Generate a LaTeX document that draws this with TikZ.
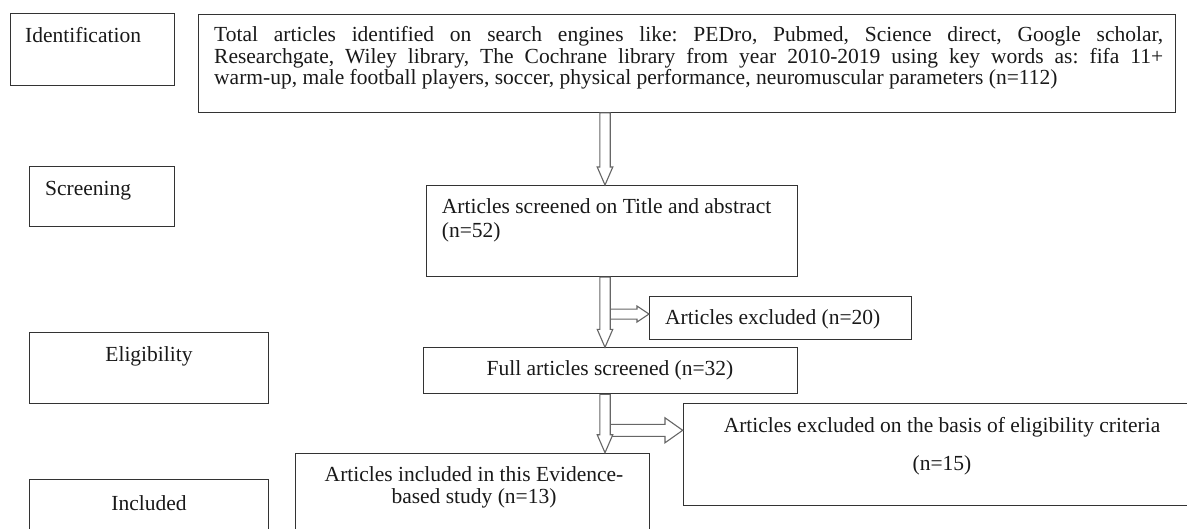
\documentclass[tikz,border=0pt]{standalone}
\usepackage{fontspec}
\setmainfont{Liberation Serif}
\usetikzlibrary{calc}
\frenchspacing

\tikzset{
	box/.style={draw=black!80, line width=1.1pt, anchor=north west, inner sep=0pt},
	txt/.style={inner sep=0pt, text=black!90, font=\fontsize{21.5}{24}\selectfont},
	blockarrow/.style={draw=black!60, fill=white, line width=1.1pt, line join=miter},
}

\begin{document}
\begin{tikzpicture}[x=1pt,y=-1pt]
			\useasboundingbox (0,0) rectangle (1187,528);
			\clip (0,0) rectangle (1187,528);
			\coordinate (spine) at (605,0);
			% stages on the left
			\node[box, minimum width=164.4pt, minimum height=71.7pt] (identstage) at (9.6,13.3) {};
			\node[box, minimum width=145.3pt, minimum height=60.3pt] (screenstage) at (28.7,165.7) {};
			\node[box, minimum width=239pt, minimum height=71.6pt] (eligstage) at (29.3,331.7) {};
			\node[box, minimum width=239pt, minimum height=80pt] (inclstage) at (29.3,479.3) {};
			\node[txt, anchor=base west] (identtxt) at (25,42.7) {Identification};
			\node[txt, anchor=base west] (screentxt) at (45,195) {Screening};
			\node[txt, anchor=base] (eligtxt) at (149,361.7) {Eligibility};
			\node[txt, anchor=base] (incltxt) at (149,510) {Included};
			% flow
			\node[box, minimum width=977.5pt, minimum height=98.2pt] (found) at (197.5,13.5) {};
			\node[txt, anchor=north west, text width=949pt, align=justify, font=\fontsize{21.5}{21.7}\selectfont] (foundtxt) at (214,26) {\tolerance=9999\hbadness=10000\relax Total articles identified on search engines like: PEDro, Pubmed, Science direct, Google scholar,\linebreak Researchgate, Wiley library, The Cochrane library from year 2010-2019 using key words as: fifa 11+\linebreak warm-up, male football players, soccer, physical performance, neuromuscular parameters (n=112)};
			\node[box, minimum width=371pt, minimum height=91pt] (screened) at (425.7,185) {};
			\node[txt, anchor=north west, align=left] (screenedtxt) at (441.7,198.6) {Articles screened on Title and abstract\\(n=52)};
			\node[box, minimum width=262pt, minimum height=43pt] (excl1) at (649,296) {};
			\node[txt, anchor=base west] (excl1txt) at (665,324) {Articles excluded (n=20)};
			\node[box, minimum width=374.3pt, minimum height=46pt] (fulltext) at (423,347.3) {};
			\node[txt, anchor=base] (fulltexttxt) at (610,375) {Full articles screened (n=32)};
			\node[box, minimum width=520pt, minimum height=101.7pt] (excl2) at (682.7,403.3) {};
			\node[txt, anchor=north, align=center] (excl2txt) at (942,417) {Articles excluded on the basis of eligibility criteria\\[14.3pt](n=15)};
			\node[box, minimum width=354.3pt, minimum height=100pt] (included) at (295,452.7) {};
			\node[txt, anchor=north, align=center] (includedtxt) at (474,466) {Articles included in this Evidence-\\[-1.4pt]based study (n=13)};
			% side arrows
			\draw[blockarrow] let \p1=($(excl1.west)+(0,-4)$), \p2=(spine) in
				(\x2+5.2pt,\y1+5pt) -- (\x1-12pt,\y1+5pt) -- (\x1-12pt,\y1+8pt) -- (\x1,\y1)
				-- (\x1-12pt,\y1-8pt) -- (\x1-12pt,\y1-5pt) -- (\x2+5.2pt,\y1-5pt);
			\draw[blockarrow] let \p1=($(excl2.north west)+(0,27)$), \p2=(spine) in
				(\x2+5.2pt,\y1+6pt) -- (\x1-17.7pt,\y1+6pt) -- (\x1-17.7pt,\y1+12.5pt) -- (\x1,\y1)
				-- (\x1-17.7pt,\y1-12.5pt) -- (\x1-17.7pt,\y1-6pt) -- (\x2+5.2pt,\y1-6pt);
			% down arrows
			\foreach \a/\b in {found/screened, screened/fulltext, fulltext/included}{
				\draw[blockarrow] let \p1=(\a.south -| spine), \p2=(\b.north -| spine) in
					(\x1-5.2pt,\y1) -- (\x1-5.2pt,\y2+18pt) -- (\x1-7.8pt,\y2+18pt) -- (\x1,\y2)
					-- (\x1+7.8pt,\y2+18pt) -- (\x1+5.2pt,\y2+18pt) -- (\x1+5.2pt,\y1) -- cycle;
			}
		\end{tikzpicture}
\end{document}
